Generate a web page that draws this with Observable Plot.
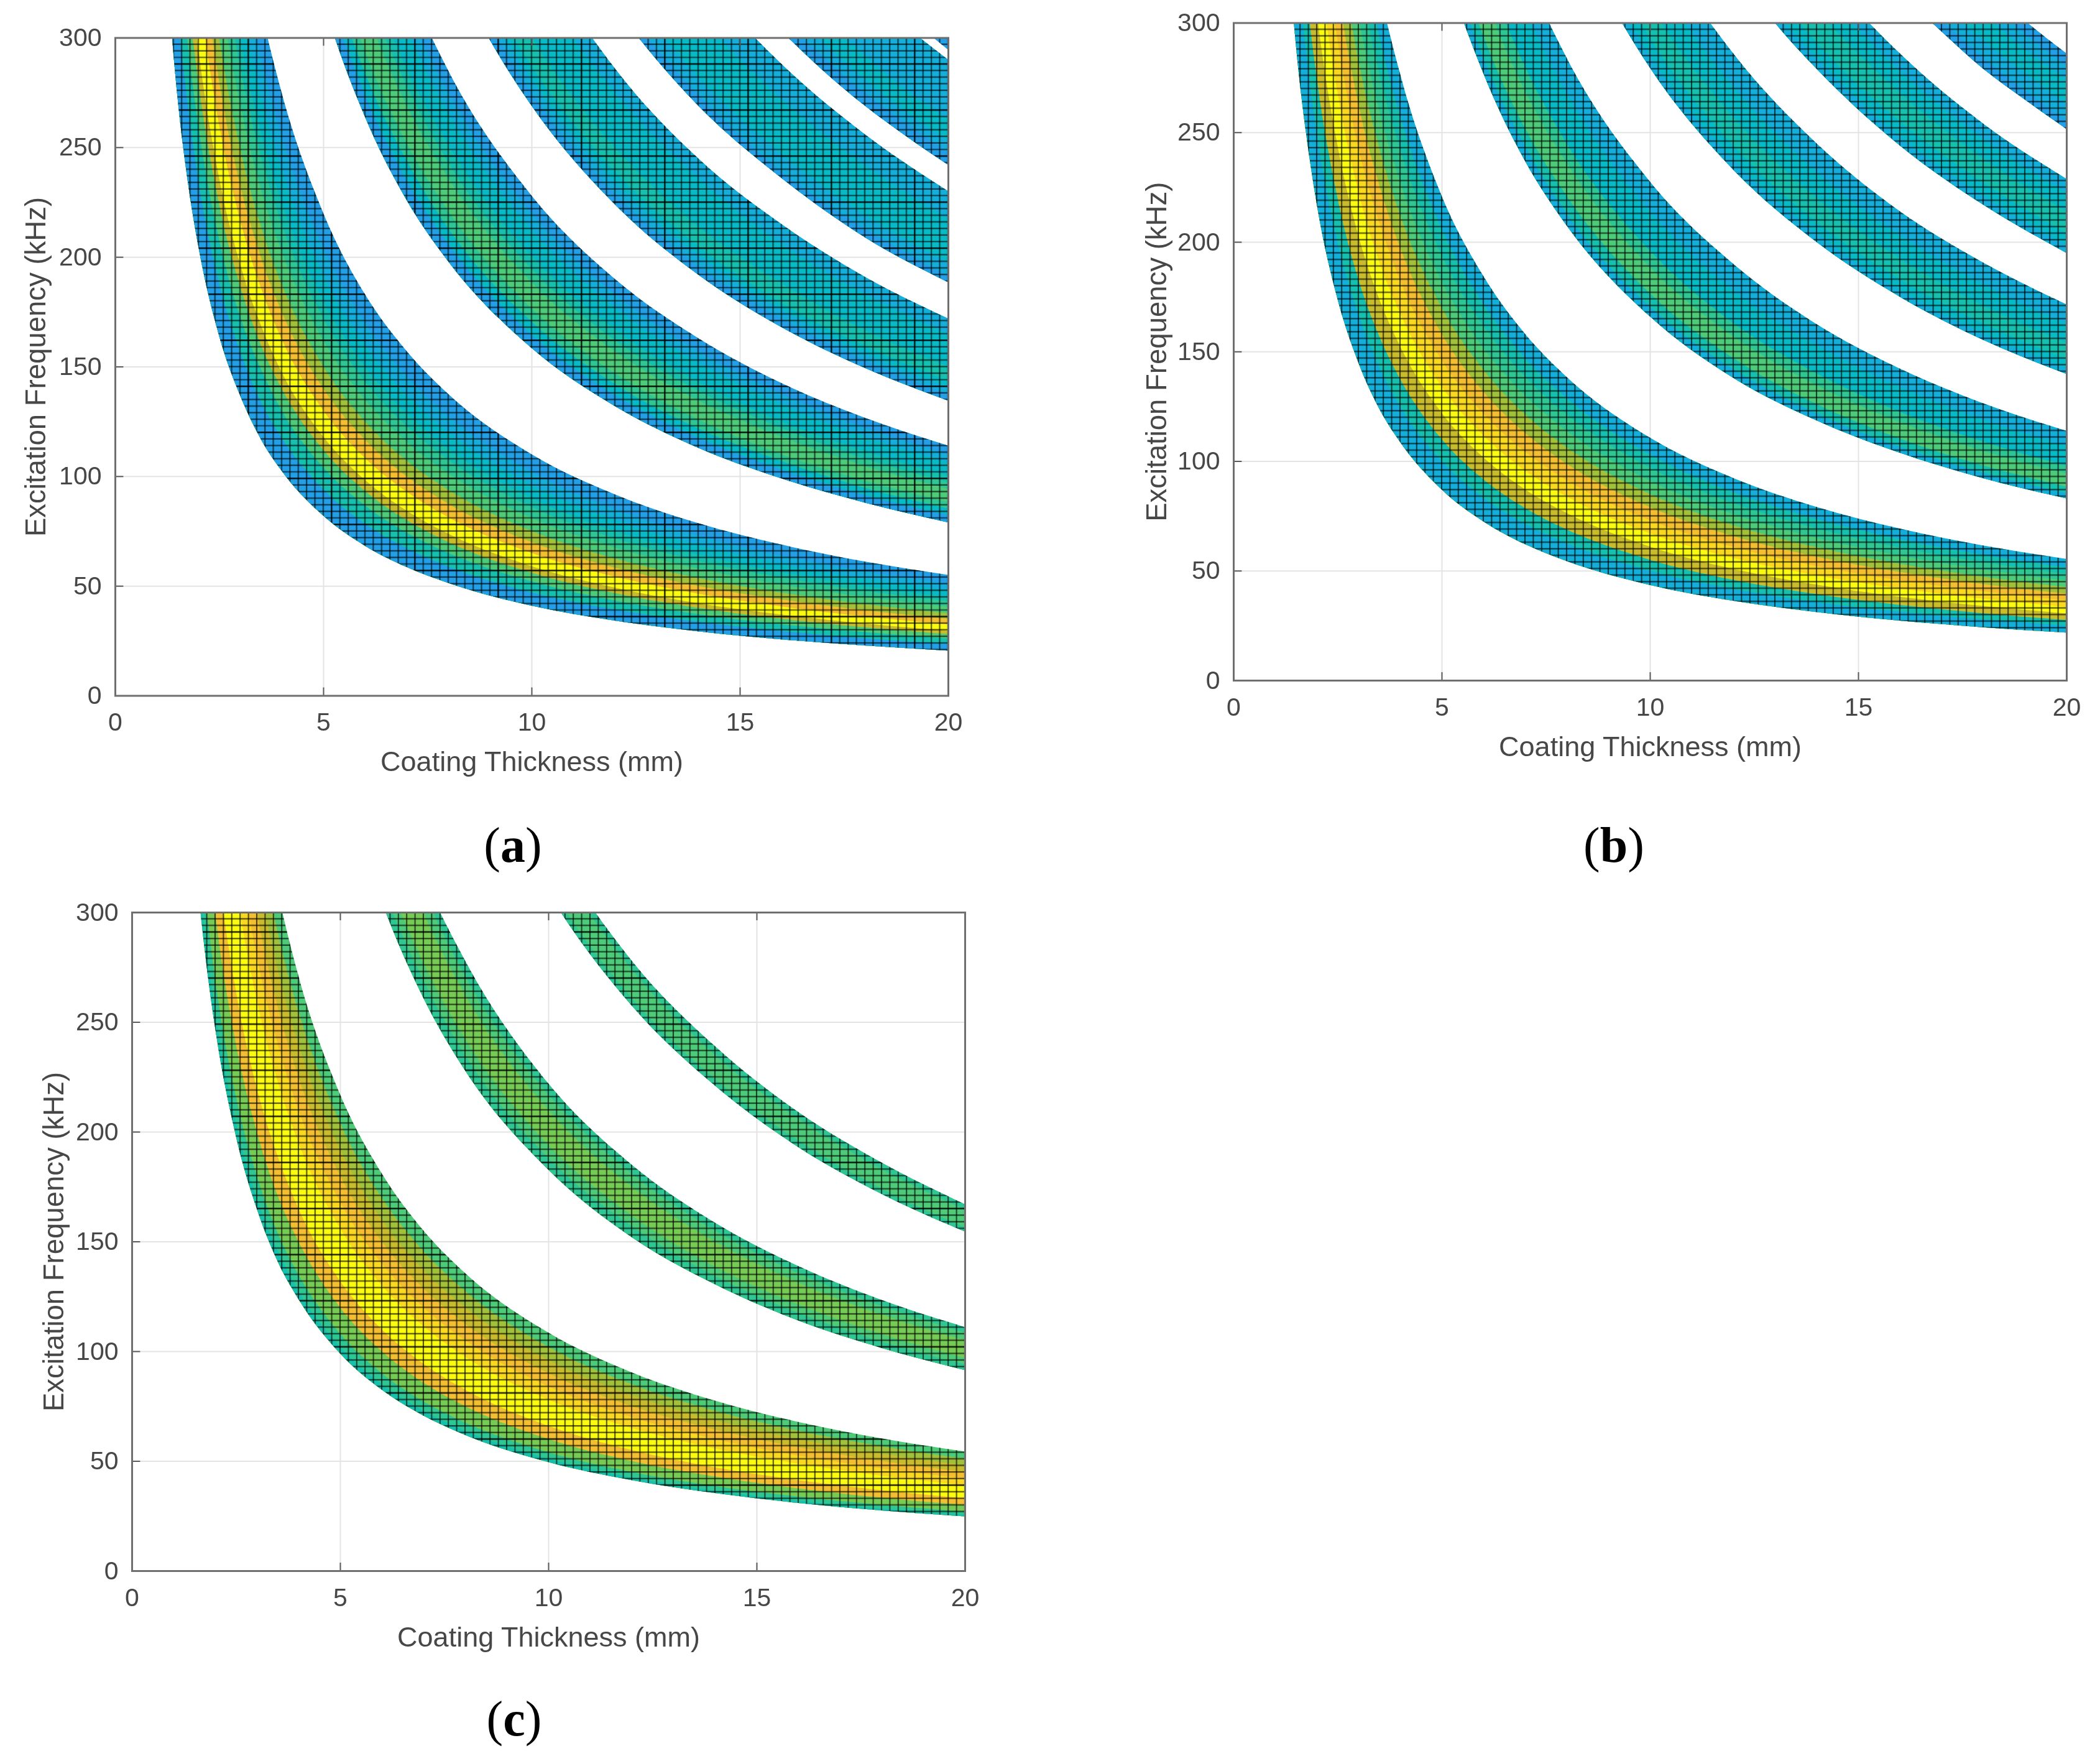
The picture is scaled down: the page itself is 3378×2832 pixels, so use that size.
<!doctype html>
<html><head><meta charset="utf-8">
<script src="https://cdn.jsdelivr.net/npm/d3@7"></script>
<script src="https://cdn.jsdelivr.net/npm/@observablehq/plot@0.6"></script>
<style>
html,body{margin:0;background:#fff}
#root{position:relative;width:3378px;height:2832px;overflow:hidden;filter:blur(0.7px)}
#root svg{position:absolute}
.sub{position:absolute;font:80px "Liberation Serif",serif;color:#000;transform:translate(-50%,-50%);white-space:nowrap}
</style></head><body><div id="root"></div>
<script>
// Values were estimated from the picture: each band edge / colour boundary was located
// where it meets the top and right of the frame, then tabulated along the thickness lists.
const xTicks=[0,5,10,15,20];
const yTicks=[0,50,100,150,200,250,300];
const xLabel="Coating Thickness (mm)";
const yLabel="Excitation Frequency (kHz)";
const palette=["#229fe6","#13afda","#06bac6","#15c0ae","#2ec794","#4dcb78","#76cb55","#a2c13a","#c8bb2c","#f3be30","#fad820","#fbfb0f"];

const T1=[1.25,1.5,1.75,2,2.5,3,3.5,4,5,6,7,8,10,12,14,16,18,20];
const T2=[4,5,6,7,8,10,12,14,16,18,20];
const T3=[8,9,10,12,14,16,18,20];
const T4=[12,13,14,16,18,20];
const T5=[16,17,18,19,20];
const T6=[19,20];

// panel (a)
const a1=[
[328,273,234,205,164,137,117,102.5,82,68.3,58.6,51.3,41,34.2,29.3,25.6,22.8,20.5],
[376,313,269,235,188,157,134,117.5,94,78.3,67.1,58.8,47,39.2,33.6,29.4,26.1,23.5],
[416,347,297,260,208,173,149,130,104,86.7,74.3,65,52,43.3,37.1,32.5,28.9,26],
[448,373,320,280,224,187,160,140,112,93.3,80,70,56,46.7,40,35,31.1,28],
[472,393,337,295,236,197,169,147.5,118,98.3,84.3,73.8,59,49.2,42.1,36.9,32.8,29.5],
[520,433,371,325,260,217,186,162.5,130,108.3,92.9,81.3,65,54.2,46.4,40.6,36.1,32.5],
[560,467,400,350,280,233,200,175,140,116.7,100,87.5,70,58.3,50,43.8,38.9,35],
[600,500,429,375,300,250,214,187.5,150,125,107.1,93.8,75,62.5,53.6,46.9,41.7,37.5],
[648,540,463,405,324,270,231,202.5,162,135,115.7,101.3,81,67.5,57.9,50.6,45,40.5],
[688,573,491,430,344,287,246,215,172,143.3,122.9,107.5,86,71.7,61.4,53.8,47.8,43],
[720,600,514,450,360,300,257,225,180,150,128.6,112.5,90,75,64.3,56.3,50,45],
[768,640,549,480,384,320,274,240,192,160,137.1,120,96,80,68.6,60,53.3,48],
[816,680,583,510,408,340,291,255,204,170,145.7,127.5,102,85,72.9,63.8,56.7,51],
[880,733,629,550,440,367,314,275,220,183,157.1,137.5,110,91.7,78.6,68.8,61.1,55]];
const a1L=[0,3,5,8,11,9,7,5,4,3,2,1,0];
const a2=[
[396,317,264,226,198,158.5,132,113,99,88,79],
[411,329,274,235,206,164.5,137,117.5,103,91.4,82.3],
[426,341,284,244,213,170.5,142,121.8,107,94.7,85.3],
[441,353,294,252,221,176.5,147,126,110,98,88.3],
[471,377,314,269,236,188.5,157,134.6,118,104.7,94.3],
[486,389,324,278,243,194.5,162,139,122,108,97.3],
[501,401,334,286,251,200.5,167,143,125,111.4,100.3],
[531,425,354,304,266,212.5,177,152,133,118,106.3],
[550,440,367,314,275,220,183,157,137.5,122,110],
[570,456,380,326,285,228,190,163,142.5,126.7,114]];
const a2L=[0,2,4,5,4,3,2,1,0];
const a3=[
[336,299,269,224,192,168,149.4,134.5],
[344,306,275,229,196,172,152.8,137.5],
[351,312,281,234,201,176,156,140.5],
[359,319,287,239,205,179,159.4,143.5],
[375,333,300,250,214,188,166.7,150],
[388,344,310,258,221,194,172,155],
[413,367,330,275,236,206,183,165],
[429,382,344,286,245,215,191,172]];
const a3L=[0,1,2,3,2,2,1];
const a4=[
[314,290,269,236,209,188.5],
[319,295,274,239,213,191.5],
[329,304,282,247,219,197.5],
[346,319,296,259,231,207.5],
[363,335,311,272,242,217.5],
[384,354,329,288,256,230]];
const a4L=[0,1,2,2,1];
const a5=[
[303,285,269,255,242],
[309,291,275,261,248],
[316,298,281,266,253],
[328,309,292,276,263],
[344,324,306,289,275],
[363,341,322,305,290]];
const a5L=[0,1,2,1,1];
const a6=[[310,294.5],[350,330]];
const a6L=[0];

// panel (b)
const b1=[
[348,290,249,217.5,174,145,124,108.8,87,72.5,62.1,54.4,43.5,36.3,31.1,27.2,24.2,21.8],
[400,333,286,250,200,167,143,125,100,83.3,71.4,62.5,50,41.7,35.7,31.3,27.8,25],
[440,367,314,275,220,183,157,137.5,110,91.7,78.6,68.8,55,45.8,39.3,34.4,30.6,27.5],
[488,407,349,305,244,203,174,152.5,122,101.7,87.1,76.3,61,50.8,43.6,38.1,33.9,30.5],
[536,447,383,335,268,223,191,167.5,134,111.7,95.7,83.8,67,55.8,47.9,41.9,37.2,33.5],
[584,487,417,365,292,243,209,182.5,146,121.7,104.3,91.3,73,60.8,52.1,45.6,40.6,36.5],
[632,527,451,395,316,263,226,197.5,158,131.7,112.9,98.8,79,65.8,56.4,49.4,43.9,39.5],
[680,567,486,425,340,283,243,212.5,170,141.7,121.4,106.3,85,70.8,60.7,53.1,47.2,42.5],
[728,607,520,455,364,303,260,227.5,182,151.7,130,113.8,91,75.8,65,56.9,50.6,45.5],
[776,647,554,485,388,323,277,242.5,194,161.7,138.6,121.3,97,80.8,69.3,60.6,53.9,48.5],
[824,687,589,515,412,343,294,257.5,206,171.7,147.1,128.8,103,85.8,73.6,64.4,57.2,51.5],
[886,738,633,553.5,443,369,316,276.8,221,184.5,158.1,138.4,110.7,92.3,79.1,69.2,61.5,55.4]];
const b1L=[1,3,8,11,10,9,7,5,4,3,1];
const b2=[
[415,332,277,237,207.5,166,138,118.6,103.8,92.2,83],
[426,341,284,244,213,170.5,142,121.8,106.6,94.7,85.3],
[441,353,294,252,221,176.5,147,126,110.3,98,88.3],
[471,377,314,269,236,188.5,157,134.6,117.8,104.7,94.3],
[490,392,327,280,245,196,163,140,122.5,108.9,98],
[535,428,357,306,268,214,178,153,133.8,118.9,107],
[569,455,379,325,284,227.5,190,162.5,142.2,126.4,113.8]];
const b2L=[1,3,5,4,2,1];
const b3=[
[349,311,279.5,233,200,175,155.3,139.8],
[356,317,285,237.5,204,178,158.3,142.5],
[366,326,293,244,209,183,162.8,146.5],
[385,342,308,257,220,192.5,171,154],
[406,361,325,271,232,203,180.6,162.5],
[429,381,343,286,245,214,190.6,171.5]];
const b3L=[1,2,3,2,1];
const b4=[
[325,300,279,244,217,195],
[331,305,284,248,221,198.5],
[340,314,291,255,227,204],
[357,329,306,268,238,214],
[371,342,318,278,247,222.5],
[381,352,327,286,254,228.8]];
const b4L=[1,2,3,2,1];
const b5=[
[314,296,279,265,251.5],
[319,301,284,269,255.5],
[329,309,292,277,263],
[343,322,304,288,274],
[351,330,312,295,280.5],
[358,337,318,301,286]];
const b5L=[0,1,2,1,0];

// panel (c)
const c1=[
[396,330,283,247.5,198,165,141,123.8,99,82.5,70.7,61.9,49.5,41.3,35.4,30.9,27.5,24.8],
[408,340,291,255,204,170,146,127.5,102,85,72.9,63.8,51,42.5,36.4,31.9,28.3,25.5],
[432,360,309,270,216,180,154,135,108,90,77.1,67.5,54,45,38.6,33.8,30,27],
[480,400,343,300,240,200,171,150,120,100,85.7,75,60,50,42.9,37.5,33.3,30],
[528,440,377,330,264,220,189,165,132,110,94.3,82.5,66,55,47.1,41.3,36.7,33],
[624,520,446,390,312,260,223,195,156,130,111.4,97.5,78,65,55.7,48.8,43.3,39],
[672,560,480,420,336,280,240,210,168,140,120,105,84,70,60,52.5,46.7,42],
[720,600,514,450,360,300,257,225,180,150,128.6,112.5,90,75,64.3,56.3,50,45],
[768,640,549,480,384,320,274,240,192,160,137.1,120,96,80,68.6,60,53.3,48],
[816,680,583,510,408,340,291,255,204,170,145.7,127.5,102,85,72.9,63.8,56.7,51],
[868,723,620,542.5,434,362,310,271,217,181,155,135.6,108.5,90.4,77.5,67.8,60.3,54.3]];
const c1L=[3,4,6,9,11,10,9,8,7,5];
const c2=[
[457,365,305,261,228,182.7,152,130.5,114,101.5,91.4],
[470,376,313,269,235,188,157,134.3,117.5,104.4,94],
[485,388,323,277,242.5,194,162,138.6,121.3,107.8,97],
[525,420,350,300,262.5,210,175,150,131.3,116.7,105],
[543,434,362,310,271,217,181,155,135.6,120.6,108.5],
[555,444,370,317,278,222,185,158.6,138.8,123.4,111]];
const c2L=[4,5,6,5,4];
const c3=[
[386,343,309,257.5,221,193,171.7,154.5],
[391,348,313,261,224,196,174,156.5],
[411,366,329,274,235,206,183,164.5],
[418,371,334,278,239,209,186,167]];
const c3L=[4,5,4];

const curve="monotone-x";
function bandMarks(T,curves,levels,gridId){
  const lo=curves[0], marks=[];
  for(let i=curves.length-1;i>=1;i--){
    const rows=T.map((t,j)=>({t,lo:lo[j],hi:curves[i][j]}));
    marks.push(Plot.areaY(rows,{x:"t",y1:"lo",y2:"hi",fill:palette[levels[i-1]],curve,clip:true}));
  }
  const top=curves[curves.length-1];
  marks.push(Plot.areaY(T.map((t,j)=>({t,lo:lo[j],hi:top[j]})),{x:"t",y1:"lo",y2:"hi",fill:`url(#${gridId})`,curve,clip:true}));
  return marks;
}
// the cell lattice: 100 x 100 cells over the axes; sized from the scales
function latticeDefs(id,colEvery,colOffset,rowEvery,rowOffset){
  return (index,{x,y})=>{
    const cw=x(0.2)-x(0), ch=y(0)-y(3);
    const nc=colEvery||1, nr=rowEvery||1;
    const defs=d3.create("svg:defs");
    const p=defs.append("pattern").attr("id",id).attr("patternUnits","userSpaceOnUse")
      .attr("x",x(0)-cw/2).attr("y",y(300)-ch/2).attr("width",cw*nc).attr("height",ch*nr);
    for(let i=0;i<nc;i++){
      const strong=colEvery&&i===colOffset%nc;
      p.append("line").attr("x1",(i+.5)*cw).attr("x2",(i+.5)*cw).attr("y1",0).attr("y2",ch*nr)
       .attr("stroke","#000").attr("stroke-opacity",strong?.9:.66).attr("stroke-width",strong?2.4:2.1);
    }
    for(let j=0;j<nr;j++){
      const strong=rowEvery&&j===rowOffset%nr;
      p.append("line").attr("y1",(j+.5)*ch).attr("y2",(j+.5)*ch).attr("x1",0).attr("x2",cw*nc)
       .attr("stroke","#000").attr("stroke-opacity",strong?.9:.66).attr("stroke-width",strong?2.4:2.2);
    }
    return defs.node();
  };
}
function panel({left,top,width,height,ml,mt,mr,mb,bands,defs,ylabDx}){
  const txt="#474747";
  const svg=Plot.plot({
    width,height,marginLeft:ml,marginTop:mt,marginRight:mr,marginBottom:mb,
    x:{domain:[0,20]},y:{domain:[0,300]},
    style:{fontFamily:"Liberation Sans, Arial, sans-serif",background:"transparent",overflow:"visible"},
    marks:[
      defs,
      Plot.ruleX(xTicks,{x:d=>d,stroke:"#e4e4e4",strokeWidth:2}),
      Plot.ruleY(yTicks,{y:d=>d,stroke:"#e4e4e4",strokeWidth:2}),
      ...bands,
      Plot.ruleX(xTicks,{x:d=>d,y1:0,y2:3.7,stroke:"#5a5a5a",strokeWidth:2}),
      Plot.ruleX(xTicks,{x:d=>d,y1:296.3,y2:300,stroke:"#5a5a5a",strokeWidth:2}),
      Plot.ruleY(yTicks,{y:d=>d,x1:0,x2:0.2,stroke:"#5a5a5a",strokeWidth:2}),
      Plot.frame({stroke:"#6f6f6f",strokeWidth:3}),
      Plot.axisX(xTicks,{anchor:"bottom",tickSize:0,tickPadding:27,label:null,fontSize:41,color:txt}),
      Plot.axisY(yTicks,{anchor:"left",tickSize:0,tickPadding:22,label:null,fontSize:41,color:txt}),
      Plot.text([xLabel],{text:d=>d,frameAnchor:"bottom",dy:121,fontSize:45,fill:txt}),
      Plot.text([yLabel],{text:d=>d,frameAnchor:"left",textAnchor:"middle",rotate:-90,dx:ylabDx,fontSize:45.5,fill:txt})
    ]
  });
  svg.style.left=left+"px"; svg.style.top=top+"px";
  document.getElementById("root").append(svg);
}
panel({left:0,top:0,width:1690,height:1330,ml:185,mt:60.5,mr:165,mb:211.5,ylabDx:-127,
  defs:latticeDefs("grid-a",10,6,7,4),
  bands:[
    ...bandMarks(T1,a1,a1L,"grid-a"),...bandMarks(T2,a2,a2L,"grid-a"),...bandMarks(T3,a3,a3L,"grid-a"),
    ...bandMarks(T4,a4,a4L,"grid-a"),...bandMarks(T5,a5,a5L,"grid-a"),...bandMarks(T6,a6,a6L,"grid-a")]});
panel({left:1700,top:0,width:1678,height:1310,ml:284,mt:36.5,mr:54,mb:216,ylabDx:-123,
  defs:latticeDefs("grid-b",0,0,0,0),
  bands:[
    ...bandMarks(T1,b1,b1L,"grid-b"),...bandMarks(T2,b2,b2L,"grid-b"),...bandMarks(T3,b3,b3L,"grid-b"),
    ...bandMarks(T4,b4,b4L,"grid-b"),...bandMarks(T5,b5,b5L,"grid-b")]});
panel({left:0,top:1400,width:1690,height:1340,ml:212,mt:67,mr:138,mb:214,ylabDx:-125,
  defs:latticeDefs("grid-c",0,0,7,3),
  bands:[...bandMarks(T1,c1,c1L,"grid-c"),...bandMarks(T2,c2,c2L,"grid-c"),...bandMarks(T3,c3,c3L,"grid-c")]});

const subs=[["a",825,1359],["b",2596,1359],["c",827,2764]];
for(const [s,x,y] of subs){
  const d=document.createElement("div"); d.className="sub";
  d.style.left=x+"px"; d.style.top=y+"px";
  d.innerHTML=`(<b>${s}</b>)`;
  document.getElementById("root").append(d);
}
</script></body></html>
